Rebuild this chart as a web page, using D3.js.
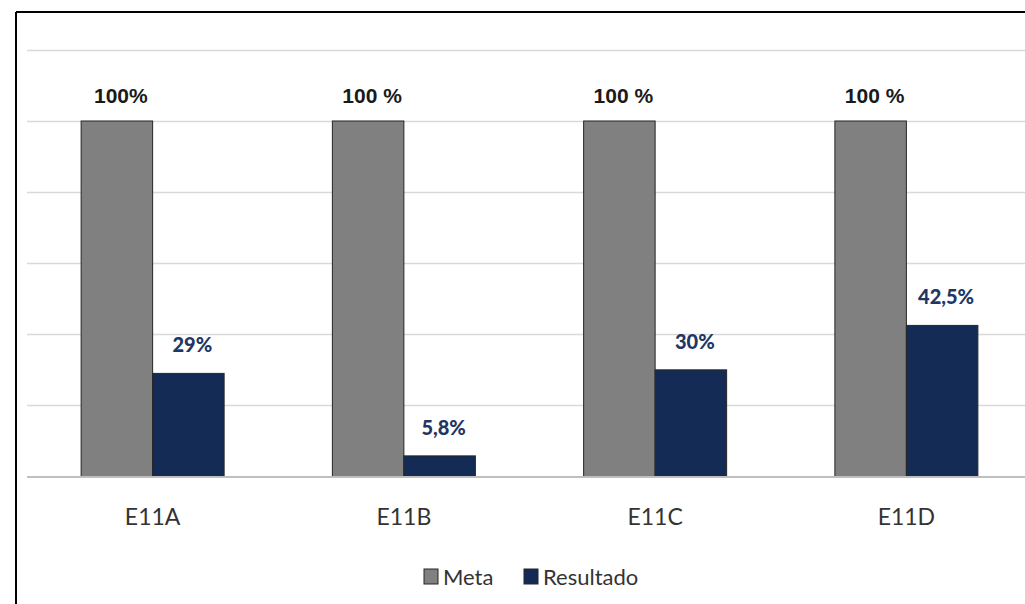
<!DOCTYPE html>
<html>
<head>
<meta charset="utf-8">
<script src="https://cdn.jsdelivr.net/npm/d3@7"></script>
<style>
  html, body { margin: 0; padding: 0; background: #fff; }
  svg { display: block; }
</style>
</head>
<body>
<svg id="chart" width="1025" height="604"></svg>
<script>
const categories = ["E11A", "E11B", "E11C", "E11D"];
const seriesNames = ["Meta", "Resultado"];
const metaValues = [100, 100, 100, 100];
const resultadoValues = [29, 5.8, 30, 42.5];
const metaLabels = ["100%", "100 %", "100 %", "100 %"];
const resultadoLabels = ["29%", "5,8%", "30%", "42,5%"];
const gridTicks = [0, 20, 40, 60, 80, 100, 120];

const colors = { Meta: "#808080", Resultado: "#132b55" };

const svg = d3.select("#chart");

// frame border (top and left)
svg.append("line").attr("x1", 16).attr("x2", 1025).attr("y1", 12).attr("y2", 12)
  .attr("stroke", "#000").attr("stroke-width", 2);
svg.append("line").attr("x1", 16).attr("x2", 16).attr("y1", 12).attr("y2", 604)
  .attr("stroke", "#000").attr("stroke-width", 2);

const y = d3.scaleLinear().domain([0, 120]).range([476.5, 49.9]);
const x = d3.scaleBand().domain(categories).range([27, 1032]).padding(0);
const groupW = 143;
const x1 = d3.scaleBand().domain(seriesNames).range([0, groupW]).padding(0);

// gridlines
svg.append("g").selectAll("line").data(gridTicks.filter(t => t > 0)).join("line")
  .attr("x1", 27).attr("x2", 1025)
  .attr("y1", d => Math.round(y(d)) + 0.5).attr("y2", d => Math.round(y(d)) + 0.5)
  .attr("stroke", "#d9d9d9").attr("stroke-width", 1.5);

const data = categories.map((c, i) => ({
  cat: c,
  vals: [
    { s: "Meta", v: metaValues[i], label: metaLabels[i] },
    { s: "Resultado", v: resultadoValues[i], label: resultadoLabels[i] }
  ]
}));

const groups = svg.append("g").selectAll("g").data(data).join("g")
  .attr("transform", d => `translate(${x(d.cat) + x.bandwidth() / 2 - groupW / 2},0)`);

groups.selectAll("rect").data(d => d.vals).join("rect")
  .attr("x", d => x1(d.s))
  .attr("y", d => y(d.v))
  .attr("width", x1.bandwidth())
  .attr("height", d => y(0) - y(d.v))
  .attr("fill", d => colors[d.s])
  .attr("stroke", "#262626")
  .attr("stroke-width", 1);

groups.selectAll("text.val").data(d => d.vals).join("text")
  .attr("class", "val")
  .attr("x", d => x1(d.s) + x1.bandwidth() / 2 + 4)
  .attr("y", d => y(d.v) - (d.s === "Meta" ? 18 : 21))
  .attr("text-anchor", "middle")
  .attr("font-family", d => d.s === "Meta" ? "Liberation Sans, Arial, sans-serif" : "Lato, sans-serif")
  .attr("font-weight", d => d.s === "Meta" ? "bold" : 900)
  .attr("font-size", d => d.s === "Meta" ? 21 : 20)
  .attr("fill", d => d.s === "Meta" ? "#1a1a1a" : "#1f3766")
  .text(d => d.label);

// axis line
svg.append("line").attr("x1", 27).attr("x2", 1025)
  .attr("y1", y(0) + 0.5).attr("y2", y(0) + 0.5)
  .attr("stroke", "#bfbfbf").attr("stroke-width", 2);

// category labels
svg.append("g").selectAll("text").data(categories).join("text")
  .attr("x", d => x(d) + x.bandwidth() / 2)
  .attr("y", 525)
  .attr("text-anchor", "middle")
  .attr("font-family", "Lato, sans-serif")
  .attr("font-size", 23)
  .attr("fill", "#333")
  .text(d => d);

// legend
const legendItems = [
  { s: "Meta", x: 424 },
  { s: "Resultado", x: 524 }
];
const lg = svg.append("g").selectAll("g").data(legendItems).join("g")
  .attr("transform", d => `translate(${d.x},569)`);
lg.append("rect").attr("width", 14).attr("height", 15)
  .attr("fill", d => colors[d.s]).attr("stroke", "#262626").attr("stroke-width", 1);
lg.append("text").attr("x", 19).attr("y", 15.5)
  .attr("font-family", "Lato, sans-serif").attr("font-size", 22).attr("fill", "#333")
  .text(d => d.s);
</script>
</body>
</html>
